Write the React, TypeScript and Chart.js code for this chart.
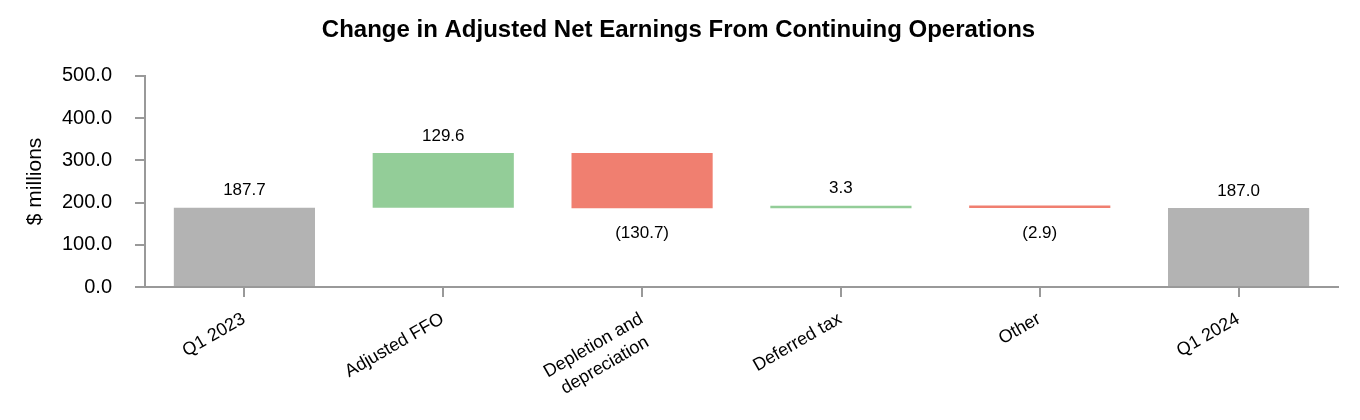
import React, { useEffect, useRef } from "react";
import { Chart, registerables } from "chart.js";

Chart.register(...registerables);

const chartTitle = "Change in Adjusted Net Earnings From Continuing Operations";
const categories: (string | string[])[] = [
  "Q1 2023",
  "Adjusted FFO",
  ["Depletion and", "depreciation"],
  "Deferred tax",
  "Other",
  "Q1 2024",
];
const changes = [187.7, 129.6, -130.7, 3.3, -2.9, 187.0];
const isTotal = [true, false, false, false, false, true];
const yMin = 0;
const yMax = 500;
const yStep = 100;
const yAxisTitle = "$ millions";

const GRAY = "#b3b3b3";
const GREEN = "#93cd98";
const RED = "#f07f70";
const AXIS = "#999999";
const FONT = "'Liberation Sans', Arial, Helvetica, sans-serif";
const X_FONT_SIZE = 18;
const X_LINE_H = 23;
const X_ROT = (-30 * Math.PI) / 180;

function fmt(v: number) {
  return v < 0 ? `(${Math.abs(v).toFixed(1)})` : v.toFixed(1);
}

const labelPlugin = {
  id: "wfLabels",
  afterDatasetsDraw(chart: any) {
    const ctx = chart.ctx;
    const meta = chart.getDatasetMeta(0);
    ctx.save();
    ctx.font = `17px ${FONT}`;
    ctx.fillStyle = "#000";
    ctx.textAlign = "center";
    ctx.textBaseline = "middle";
    meta.data.forEach((el: any, i: number) => {
      const v = changes[i];
      const top = Math.min(el.y, el.base);
      const bottom = Math.max(el.y, el.base);
      if (v >= 0) ctx.fillText(fmt(v), el.x, top - 17);
      else ctx.fillText(fmt(v), el.x, bottom + 25);
    });

    // rotated category labels with centred lines
    const xs = chart.scales.x;
    ctx.font = `${X_FONT_SIZE}px ${FONT}`;
    ctx.textBaseline = "top";
    ctx.textAlign = "center";
    categories.forEach((c, i) => {
      const lines = Array.isArray(c) ? c : [c];
      const w = Math.max(...lines.map((l) => ctx.measureText(l).width));
      const px = xs.getPixelForTick(i) - 5;
      const py = xs.top + 23;
      ctx.save();
      ctx.translate(px, py);
      ctx.rotate(X_ROT);
      lines.forEach((l, j) => ctx.fillText(l, -w / 2, j * X_LINE_H));
      ctx.restore();
    });
    ctx.restore();
  },
};

export default function App() {
  const ref = useRef<HTMLCanvasElement | null>(null);
  useEffect(() => {
    if (!ref.current) return;
    let running = 0;
    const ranges = changes.map((v, i) => {
      if (isTotal[i]) {
        running = v;
        return [0, v];
      }
      const r = [running, running + v];
      running += v;
      return r;
    });
    const colors = changes.map((v, i) => (isTotal[i] ? GRAY : v >= 0 ? GREEN : RED));
    const chart = new Chart(ref.current, {
      type: "bar",
      data: {
        labels: categories as any,
        datasets: [
          {
            data: ranges as any,
            backgroundColor: colors,
            borderWidth: 0,
            borderSkipped: false,
            categoryPercentage: 1,
            barPercentage: 0.71,
            minBarLength: 2.5,
          },
        ],
      },
      options: {
        animation: false,
        responsive: true,
        maintainAspectRatio: false,
        layout: { padding: { left: 11, right: 14, top: 0, bottom: 0 } },
        plugins: {
          legend: { display: false },
          tooltip: { enabled: false },
          title: {
            display: true,
            text: chartTitle,
            color: "#000",
            font: { family: FONT, size: 24, weight: "bold" },
            padding: { top: 8, bottom: 31 },
          },
        },
        scales: {
          x: {
            offset: true,
            grid: {
              offset: false,
              drawOnChartArea: false,
              drawTicks: true,
              tickLength: 10,
              color: AXIS,
              lineWidth: 2,
            },
            border: { display: true, color: AXIS, width: 2 },
            ticks: { display: false, autoSkip: false },
            afterFit: (scale: any) => {
              scale.height = 125;
            },
          },
          y: {
            min: yMin,
            max: yMax,
            grid: {
              drawOnChartArea: false,
              drawTicks: true,
              tickLength: 10,
              color: AXIS,
              lineWidth: 2,
            },
            border: { display: true, color: AXIS, width: 2 },
            ticks: {
              stepSize: yStep,
              color: "#000",
              font: { family: FONT, size: 20 },
              padding: 23,
              callback: (v: any) => Number(v).toFixed(1),
            },
            title: {
              display: true,
              text: yAxisTitle,
              color: "#000",
              font: { family: FONT, size: 21 },
              padding: { top: 4, bottom: 15 },
            },
            afterFit: (scale: any) => {
              scale.width = 126;
            },
          },
        },
      },
      plugins: [labelPlugin],
    });
    return () => chart.destroy();
  }, []);
  return (
    <div style={{ width: "100%", height: 404, position: "relative" }}>
      <canvas ref={ref} />
    </div>
  );
}
